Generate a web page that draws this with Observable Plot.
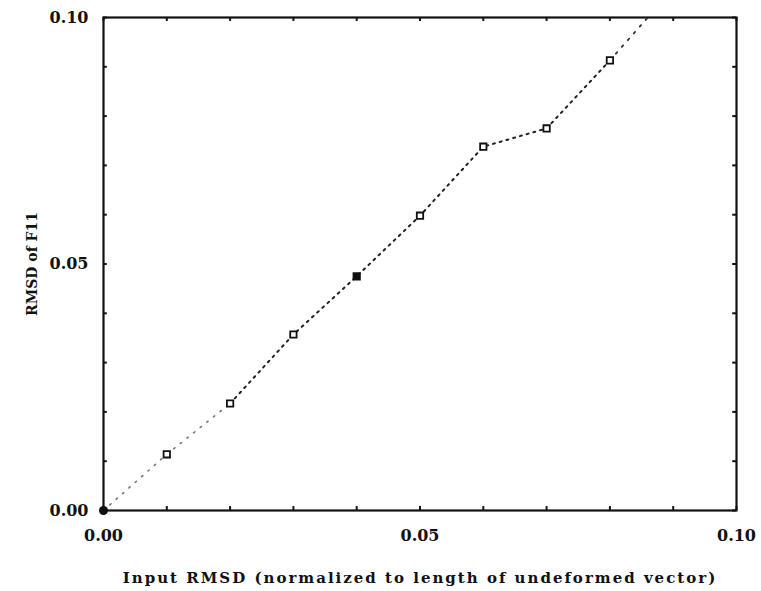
<!DOCTYPE html>
<html><head><meta charset="utf-8">
<script src="https://cdn.jsdelivr.net/npm/d3@7"></script>
<script src="https://cdn.jsdelivr.net/npm/@observablehq/plot@0.6"></script>
<style>body{margin:0;background:#fff}</style>
</head><body><div id="chart"></div>
<script>
const inputRmsd = [0.00, 0.01, 0.02, 0.03, 0.04, 0.05, 0.06, 0.07, 0.08];
const rmsdF11   = [0.000, 0.0114, 0.0217, 0.0357, 0.0475, 0.0598, 0.0738, 0.0775, 0.0913];
const filled    = [true, false, false, false, true, false, false, false, false];
const extX = [0.08, 0.086];
const extY = [0.0913, 0.100];
const minorTicks = [0.00,0.01,0.02,0.03,0.04,0.05,0.06,0.07,0.08,0.09,0.10];
const majorTicks = [0.00, 0.05, 0.10];
const xLabel = "Input RMSD (normalized to length of undeformed vector)";
const yLabel = "RMSD of F11";

const pts = inputRmsd.map((x,i)=>({x, y: rmsdF11[i], f: filled[i]}));
const ext = extX.map((x,i)=>({x, y: extY[i]}));
const font = "'DejaVu Serif', serif";

const chart = Plot.plot({
  width: 761, height: 591,
  marginLeft: 103, marginRight: 25, marginTop: 17, marginBottom: 81,
  style: {fontFamily: font, fontSize: "13px", fontWeight: "bold", background: "#fff", color: "#111"},
  x: {domain: [0, 0.1]},
  y: {domain: [0, 0.1]},
  marks: [
    Plot.axisX({ticks: majorTicks, tickFormat: ".2f", tickSize: 0, tickPadding: 19, fontSize: 16,
      label: xLabel, labelAnchor: "center", labelArrow: "none", labelOffset: 72}),
    Plot.axisY({ticks: majorTicks, tickFormat: ".2f", tickSize: 0, tickPadding: 15, fontSize: 16,
      label: yLabel, labelAnchor: "center", labelArrow: "none", labelOffset: 76}),
    Plot.ruleX(minorTicks, {x: d=>d, y1: 0, y2: 0.0008, stroke: "#111", strokeWidth: 2}),
    Plot.ruleX(minorTicks, {x: d=>d, y1: 0.1, y2: 0.0992, stroke: "#111", strokeWidth: 2}),
    Plot.ruleY(minorTicks, {y: d=>d, x1: 0, x2: 0.0006, stroke: "#111", strokeWidth: 2}),
    Plot.ruleY(minorTicks, {y: d=>d, x1: 0.1, x2: 0.0994, stroke: "#111", strokeWidth: 2}),
    Plot.frame({stroke: "#111", strokeWidth: 2.2}),
    Plot.line(pts.slice(0,3), {x: "x", y: "y", stroke: "#777", strokeWidth: 1.6, strokeDasharray: "1.5,7"}),
    Plot.line(pts.slice(2), {x: "x", y: "y", stroke: "#222", strokeWidth: 2, strokeDasharray: "2,5"}),
    Plot.line(ext, {x: "x", y: "y", stroke: "#333", strokeWidth: 1.8, strokeDasharray: "2,7"}),
    Plot.dot(pts.slice(1), {x: "x", y: "y", symbol: "square", r: 3.6, stroke: "#111", strokeWidth: 1.8,
      fill: d => d.f ? "#111" : "#fff"}),
    Plot.dot(pts.slice(0,1), {x: "x", y: "y", r: 4.5, fill: "#111"})
  ]
});
document.getElementById("chart").append(chart);
d3.select(chart).selectAll("[aria-label='x-axis label'] text").style("letter-spacing", "2px").style("font-size", "15px");
d3.select(chart).selectAll("[aria-label='y-axis label'] text").style("font-size", "14px");
</script>
</body></html>
